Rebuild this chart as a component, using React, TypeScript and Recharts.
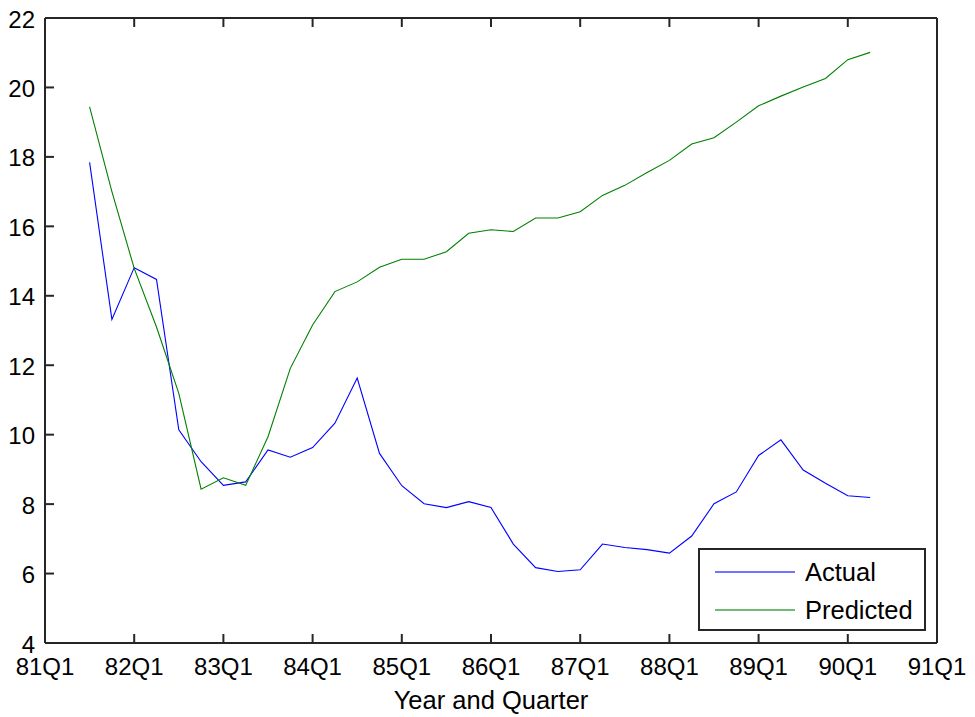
import { LineChart, Line, XAxis, YAxis, Legend } from 'recharts';

// quarters shown on the chart, 81Q3 .. 90Q2
const quarters = [
  '81Q3', '81Q4', '82Q1', '82Q2', '82Q3', '82Q4', '83Q1', '83Q2', '83Q3', '83Q4',
  '84Q1', '84Q2', '84Q3', '84Q4', '85Q1', '85Q2', '85Q3', '85Q4', '86Q1', '86Q2',
  '86Q3', '86Q4', '87Q1', '87Q2', '87Q3', '87Q4', '88Q1', '88Q2', '88Q3', '88Q4',
  '89Q1', '89Q2', '89Q3', '89Q4', '90Q1', '90Q2',
];

const actual = [
  17.84, 13.32, 14.81, 14.47, 10.14, 9.22, 8.54, 8.64, 9.56, 9.35,
  9.63, 10.33, 11.63, 9.46, 8.53, 8.01, 7.9, 8.07, 7.9, 6.85,
  6.17, 6.06, 6.11, 6.85, 6.75, 6.69, 6.59, 7.08, 8.01, 8.35,
  9.4, 9.85, 8.98, 8.6, 8.24, 8.19,
];

const predicted = [
  19.44, 17.0, 14.79, 13.1, 11.19, 8.43, 8.76, 8.54, 9.94, 11.91,
  13.16, 14.12, 14.4, 14.82, 15.05, 15.05, 15.27, 15.8, 15.9, 15.85,
  16.24, 16.24, 16.42, 16.89, 17.18, 17.55, 17.9, 18.37, 18.55, 19.0,
  19.47, 19.75, 20.01, 20.26, 20.8, 21.01,
];

const xTickLabels = ['81Q1', '82Q1', '83Q1', '84Q1', '85Q1', '86Q1', '87Q1', '88Q1', '89Q1', '90Q1', '91Q1'];
const yTicks = [4, 6, 8, 10, 12, 14, 16, 18, 20, 22];

const FIRST_YEAR = 81;

// "84Q3" -> quarters elapsed since 81Q1
const quarterIndex = (q: string) => (parseInt(q.slice(0, 2), 10) - FIRST_YEAR) * 4 + parseInt(q.slice(3), 10) - 1;

const xTicks = xTickLabels.map(quarterIndex);
const labelFor = (v: number) => xTickLabels[xTicks.indexOf(v)] ?? '';

const data = quarters.map((q, i) => ({
  q: quarterIndex(q),
  actual: actual[i],
  predicted: predicted[i],
}));

const FONT = '"Liberation Sans", Arial, Helvetica, sans-serif';
const AXIS = '#262626';
const BLUE = '#0000ff';
const GREEN = '#008000';

const LegendBox = ({ payload }: any) => (
  <div
    style={{
      width: 228,
      height: 83,
      border: `2px solid ${AXIS}`,
      background: '#fff',
      boxSizing: 'border-box',
      fontFamily: FONT,
      fontSize: 25.5,
      color: '#000',
      paddingTop: 3,
    }}
  >
    {(payload || []).map((p: any) => (
      <div key={p.value} style={{ display: 'flex', alignItems: 'center', height: 38 }}>
        <div style={{ marginLeft: 15, width: 80, height: 2, background: p.color, opacity: 0.55 }} />
        <span style={{ marginLeft: 10 }}>{p.value}</span>
      </div>
    ))}
  </div>
);

const App = () => {
  return (
    <div style={{ position: 'absolute', left: 0, top: 0, width: 975, height: 717, background: '#fff' }}>
      <LineChart width={975} height={717} data={data} margin={{ top: 17, right: 37, bottom: 0, left: 0 }}>
        <XAxis
          dataKey="q"
          type="number"
          domain={[0, 40]}
          ticks={xTicks}
          tickFormatter={labelFor}
          height={74}
          stroke={AXIS}
          strokeWidth={2}
          tickSize={-9}
          tickMargin={24}
          tick={{ fill: '#000', fontSize: 24, fontFamily: FONT }}
          interval={0}
          label={{ value: 'Year and Quarter', position: 'insideBottom', offset: 8, fill: '#000', fontSize: 25.5, fontFamily: FONT }}
        />
        <XAxis
          xAxisId="top"
          orientation="top"
          dataKey="q"
          type="number"
          domain={[0, 40]}
          ticks={xTicks}
          tickFormatter={() => ''}
          height={1}
          stroke={AXIS}
          strokeWidth={2}
          tickSize={-9}
          interval={0}
        />
        <YAxis
          type="number"
          domain={[4, 22]}
          ticks={yTicks}
          width={45}
          stroke={AXIS}
          strokeWidth={2}
          tickSize={-9}
          tickMargin={19}
          tick={{ fill: '#000', fontSize: 24, fontFamily: FONT, dy: 1 }}
          interval={0}
        />
        <YAxis
          yAxisId="right"
          orientation="right"
          type="number"
          domain={[4, 22]}
          ticks={yTicks}
          tickFormatter={() => ''}
          width={1}
          stroke={AXIS}
          strokeWidth={2}
          tickSize={-9}
          interval={0}
        />
        <Legend
          layout="horizontal"
          verticalAlign="middle"
          align="center"
          content={<LegendBox />}
          wrapperStyle={{ position: 'absolute', left: 698, top: 548, width: 'auto' }}
        />
        <Line
          type="linear"
          dataKey="actual"
          name="Actual"
          stroke={BLUE}
          strokeWidth={1.1}
          dot={false}
          isAnimationActive={false}
        />
        <Line
          type="linear"
          dataKey="predicted"
          name="Predicted"
          stroke={GREEN}
          strokeWidth={1.1}
          dot={false}
          isAnimationActive={false}
        />
      </LineChart>
    </div>
  );
};

export default App;
